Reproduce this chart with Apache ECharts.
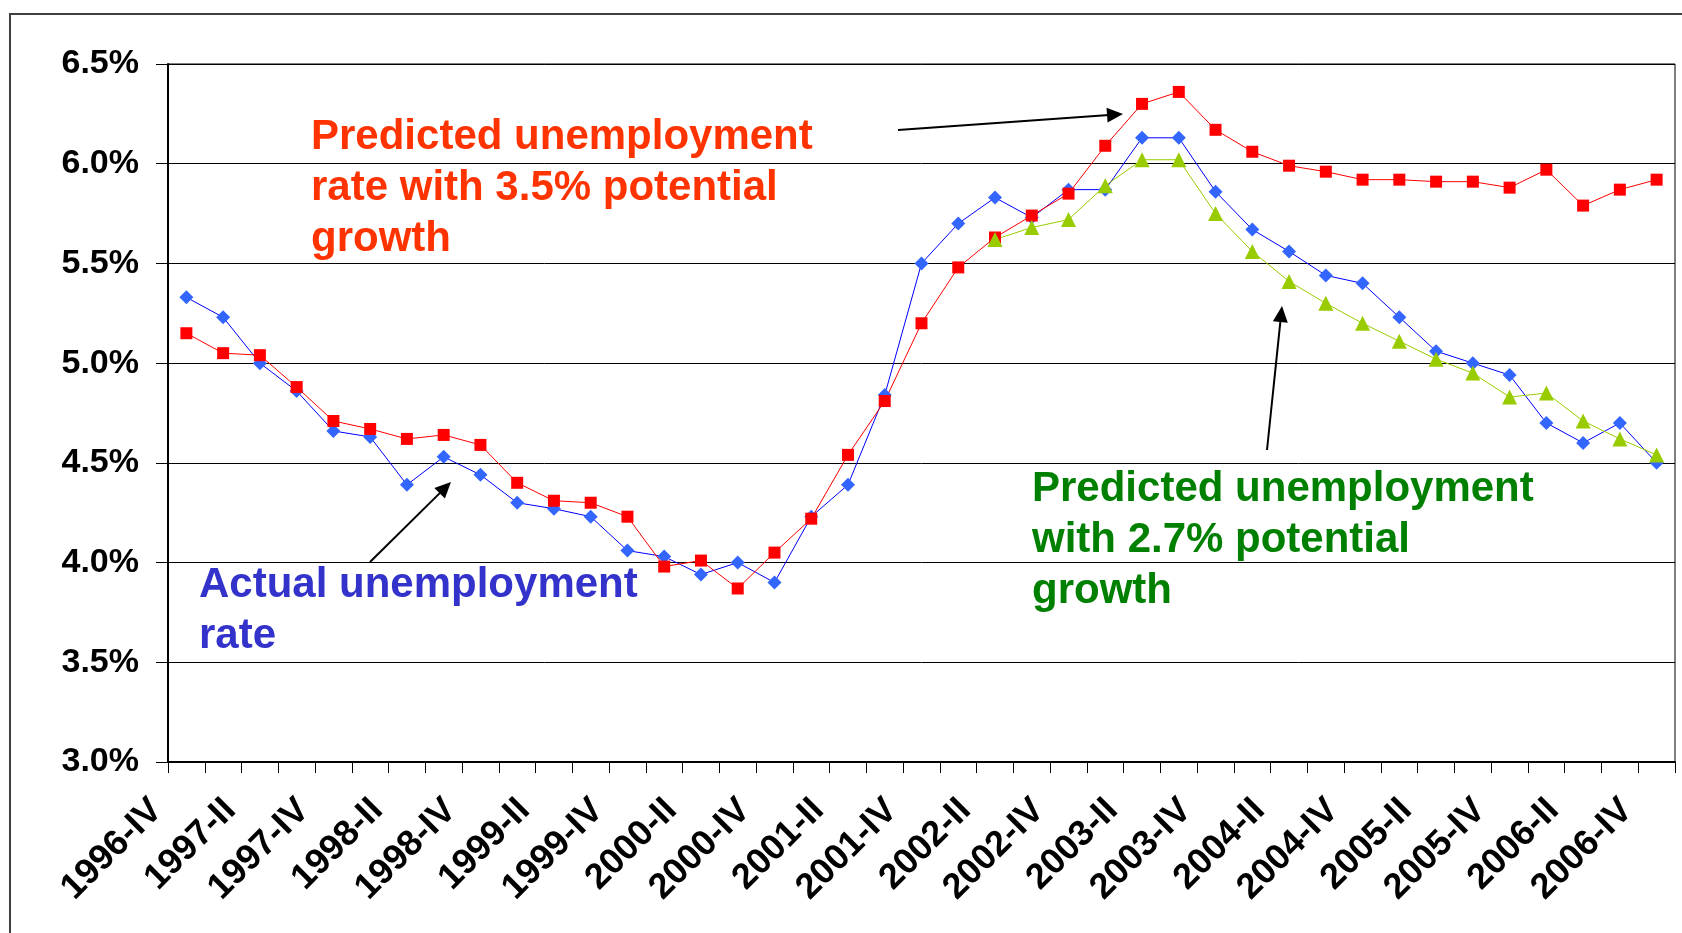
<!DOCTYPE html>
<html>
<head>
<meta charset="utf-8">
<script src="https://cdn.jsdelivr.net/npm/echarts@6/dist/echarts.min.js"></script>
<style>
html,body{margin:0;padding:0;background:#fff;}
#chart{width:1682px;height:933px;}
</style>
</head>
<body>
<div id="chart"></div>
<script>
// ---- data ----
const quarters = [
  '1996-IV',
  '1997-I','1997-II','1997-III','1997-IV',
  '1998-I','1998-II','1998-III','1998-IV',
  '1999-I','1999-II','1999-III','1999-IV',
  '2000-I','2000-II','2000-III','2000-IV',
  '2001-I','2001-II','2001-III','2001-IV',
  '2002-I','2002-II','2002-III','2002-IV',
  '2003-I','2003-II','2003-III','2003-IV',
  '2004-I','2004-II','2004-III','2004-IV',
  '2005-I','2005-II','2005-III','2005-IV',
  '2006-I','2006-II','2006-III','2006-IV'
];

const actualRate = [
  5.33, 5.23, 5.00, 4.86, 4.66, 4.63, 4.39, 4.53, 4.44, 4.30,
  4.27, 4.23, 4.06, 4.03, 3.94, 4.00, 3.90, 4.23, 4.39, 4.84,
  5.50, 5.70, 5.83, 5.73, 5.87, 5.87, 6.13, 6.13, 5.86, 5.67,
  5.56, 5.44, 5.40, 5.23, 5.06, 5.00, 4.94, 4.70, 4.60, 4.70,
  4.50
];

const predicted35 = [
  5.15, 5.05, 5.04, 4.88, 4.71, 4.67, 4.62, 4.64, 4.59, 4.40,
  4.31, 4.30, 4.23, 3.98, 4.01, 3.87, 4.05, 4.22, 4.54, 4.81,
  5.20, 5.48, 5.63, 5.74, 5.85, 6.09, 6.30, 6.36, 6.17, 6.06,
  5.99, 5.96, 5.92, 5.92, 5.91, 5.91, 5.88, 5.97, 5.79, 5.87,
  5.92
];

const predicted27 = [
  null, null, null, null, null, null, null, null, null, null,
  null, null, null, null, null, null, null, null, null, null,
  null, null, 5.62, 5.68, 5.72, 5.89, 6.02, 6.02, 5.75, 5.56,
  5.41, 5.30, 5.20, 5.11, 5.02, 4.95, 4.83, 4.85, 4.71, 4.62,
  4.54
];

const yMin = 3.0, yMax = 6.5, yStep = 0.5;

const labelRed = 'Predicted unemployment\nrate with 3.5% potential\ngrowth';
const labelBlue = 'Actual unemployment\nrate';
const labelGreen = 'Predicted unemployment\nwith 2.7% potential\ngrowth';

// ---- chart ----
const FONT = '"Liberation Sans", Arial, Helvetica, sans-serif';
const chart = echarts.init(document.getElementById('chart'), null, {renderer: 'canvas'});

function arrow(x1, y1, x2, y2) {
  const L = 16, W = 7.5;
  const dx = x2 - x1, dy = y2 - y1, len = Math.hypot(dx, dy);
  const ux = dx / len, uy = dy / len;
  const bx = x2 - ux * L, by = y2 - uy * L;
  return [
    {type: 'line', silent: true, shape: {x1: x1, y1: y1, x2: bx + ux * 2, y2: by + uy * 2},
     style: {stroke: '#000', lineWidth: 2}},
    {type: 'polygon', silent: true,
     shape: {points: [[x2, y2], [bx - uy * W, by + ux * W], [bx + uy * W, by - ux * W]]},
     style: {fill: '#000'}}
  ];
}

function note(text, x, y, color) {
  return {
    type: 'text', silent: true, x: x, y: y,
    style: {
      text: text, fill: color,
      font: 'bold 42px ' + FONT,
      lineHeight: 51, align: 'left', verticalAlign: 'top'
    }
  };
}

const option = {
  animation: false,
  backgroundColor: '#fff',
  grid: {
    left: 168, top: 64, width: 1507, height: 698,
    show: true, borderColor: '#000', borderWidth: 1, backgroundColor: 'transparent'
  },
  xAxis: {
    type: 'category',
    data: quarters,
    boundaryGap: true,
    axisLine: {show: true, lineStyle: {color: '#000', width: 2}},
    axisTick: {show: true, interval: 0, length: 11, lineStyle: {color: '#000', width: 1}},
    axisLabel: {
      interval: 1, rotate: 45, margin: 13, padding: [0, 42, 0, 0],
      color: '#000', fontWeight: 'bold', fontSize: 36, fontFamily: FONT
    },
    splitLine: {show: false}
  },
  yAxis: {
    type: 'value',
    min: yMin, max: yMax, interval: yStep,
    axisLine: {show: true, lineStyle: {color: '#000', width: 2}},
    axisTick: {show: true, length: 12, lineStyle: {color: '#000', width: 1}},
    axisLabel: {
      margin: 29, color: '#000', fontWeight: 'bold', fontSize: 34, fontFamily: FONT,
      showMinLabel: true, showMaxLabel: true,
      formatter: v => v.toFixed(1) + '%'
    },
    splitLine: {show: true, lineStyle: {color: '#000', width: 1}}
  },
  series: [
    {
      name: 'Actual unemployment rate', type: 'line', data: actualRate,
      symbol: 'diamond', symbolSize: 14,
      itemStyle: {color: '#3366FF'},
      lineStyle: {color: '#0000FF', width: 1}
    },
    {
      name: 'Predicted 3.5%', type: 'line', data: predicted35,
      symbol: 'rect', symbolSize: 12,
      itemStyle: {color: '#FF0000'},
      lineStyle: {color: '#FF0000', width: 1}
    },
    {
      name: 'Predicted 2.7%', type: 'line', data: predicted27,
      symbol: 'triangle', symbolSize: 15,
      itemStyle: {color: '#99CC00'},
      lineStyle: {color: '#99CC00', width: 1}
    }
  ],
  graphic: [
    {type: 'rect', silent: true, shape: {x: 10, y: 14, width: 1700, height: 960},
     style: {fill: 'none', stroke: '#404040', lineWidth: 2}},
    note(labelRed, 311, 112, '#FF3300'),
    note(labelBlue, 199, 560, '#3333CC'),
    note(labelGreen, 1032, 464, '#008000'),
    ...arrow(898, 130, 1123, 114),
    ...arrow(1267, 450, 1282, 306),
    ...arrow(370, 562, 451, 482)
  ]
};

chart.setOption(option);
</script>
</body>
</html>
